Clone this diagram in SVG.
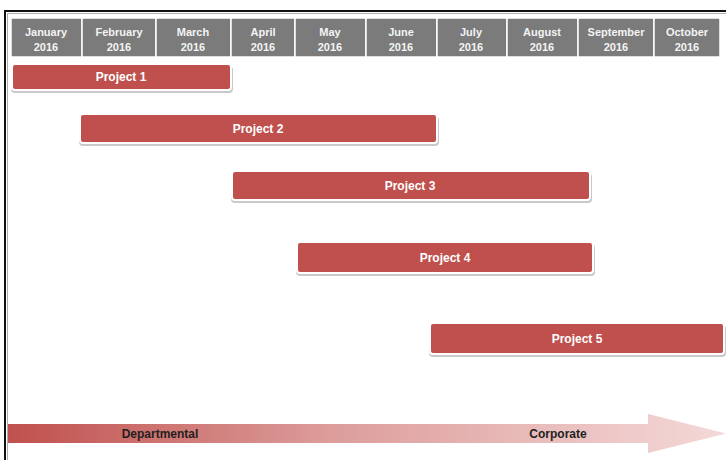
<svg xmlns="http://www.w3.org/2000/svg" width="726" height="460" viewBox="0 0 726 460">
<style>
.hdr{fill:#7b7b7b;stroke:#ffffff;stroke-width:1.5}
.ht{font-family:"Liberation Sans",Arial,sans-serif;font-weight:bold;font-size:11px;fill:#f4f4f4;text-anchor:middle}
.bar{fill:#c0504d;stroke:#ffffff;stroke-width:2}
.shadow{fill:#c9c9c9}
.pt{font-family:"Liberation Sans",Arial,sans-serif;font-weight:bold;font-size:12px;fill:#ffffff;text-anchor:middle}
.at{font-family:"Liberation Sans",Arial,sans-serif;font-weight:bold;font-size:12px;fill:#1f1f1f;text-anchor:middle}
</style>
<defs>
<linearGradient id="ag" x1="8" y1="0" x2="726" y2="0" gradientUnits="userSpaceOnUse">
<stop offset="0" stop-color="#c0504d"/>
<stop offset="0.45" stop-color="#dc9d9b"/>
<stop offset="1" stop-color="#f4d9d8"/>
</linearGradient>
</defs>
<rect width="726" height="460" fill="#ffffff"/>
<g id="frame">
<path d="M5 460 V11 H726" fill="none" stroke="#111111" stroke-width="2"/>
<path d="M7.5 460 V13.5 H726" fill="none" stroke="#9a9a9a" stroke-width="0.8"/>
</g>
<g id="header">
<rect class="hdr" x="11" y="18" width="71" height="39"/>
<rect class="hdr" x="82" y="18" width="74" height="39"/>
<rect class="hdr" x="156" y="18" width="75" height="39"/>
<rect class="hdr" x="231" y="18" width="64" height="39"/>
<rect class="hdr" x="295" y="18" width="71" height="39"/>
<rect class="hdr" x="366" y="18" width="71" height="39"/>
<rect class="hdr" x="437" y="18" width="70" height="39"/>
<rect class="hdr" x="507" y="18" width="71" height="39"/>
<rect class="hdr" x="578" y="18" width="76" height="39"/>
<rect class="hdr" x="654" y="18" width="66" height="39"/>
<text class="ht" x="46" y="36">January</text><text class="ht" x="46" y="51">2016</text>
<text class="ht" x="119" y="36">February</text><text class="ht" x="119" y="51">2016</text>
<text class="ht" x="193" y="36">March</text><text class="ht" x="193" y="51">2016</text>
<text class="ht" x="263" y="36">April</text><text class="ht" x="263" y="51">2016</text>
<text class="ht" x="330" y="36">May</text><text class="ht" x="330" y="51">2016</text>
<text class="ht" x="401" y="36">June</text><text class="ht" x="401" y="51">2016</text>
<text class="ht" x="471" y="36">July</text><text class="ht" x="471" y="51">2016</text>
<text class="ht" x="542" y="36">August</text><text class="ht" x="542" y="51">2016</text>
<text class="ht" x="616" y="36">September</text><text class="ht" x="616" y="51">2016</text>
<text class="ht" x="687" y="36">October</text><text class="ht" x="687" y="51">2016</text>
</g>
<g id="project1">
<rect class="shadow" x="11" y="66" width="222" height="27" rx="4"/>
<rect class="bar" x="12" y="64" width="219" height="26" rx="3"/>
<text class="pt" x="121" y="81">Project 1</text>
</g>
<g id="project2">
<rect class="shadow" x="79" y="116" width="360" height="30" rx="4"/>
<rect class="bar" x="80" y="114" width="357" height="29" rx="3"/>
<text class="pt" x="258" y="133">Project 2</text>
</g>
<g id="project3">
<rect class="shadow" x="231" y="173" width="361" height="30" rx="4"/>
<rect class="bar" x="232" y="171" width="358" height="29" rx="3"/>
<text class="pt" x="410" y="190">Project 3</text>
</g>
<g id="project4">
<rect class="shadow" x="296" y="244" width="299" height="32" rx="4"/>
<rect class="bar" x="297" y="242" width="296" height="31" rx="3"/>
<text class="pt" x="445" y="262">Project 4</text>
</g>
<g id="project5">
<rect class="shadow" x="429" y="325" width="297" height="32" rx="4"/>
<rect class="bar" x="430" y="323" width="294" height="31" rx="3"/>
<text class="pt" x="577" y="343">Project 5</text>
</g>
<g id="scale-arrow">
<path d="M8 424 H648 V414 L726 433.5 L648 453 V443 H8 Z" fill="url(#ag)"/>
<text class="at" x="160" y="438">Departmental</text>
<text class="at" x="558" y="438">Corporate</text>
</g>
</svg>
